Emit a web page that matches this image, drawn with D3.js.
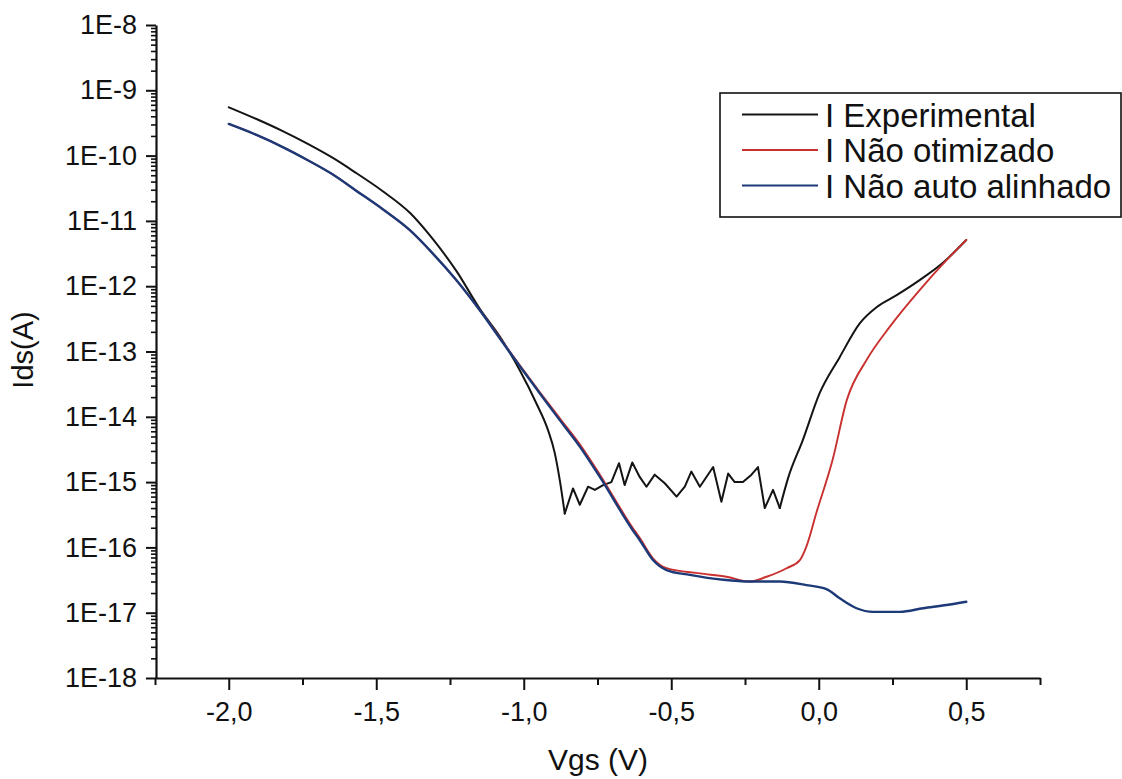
<!DOCTYPE html>
<html>
<head>
<meta charset="utf-8">
<script src="https://cdn.jsdelivr.net/npm/d3@7/dist/d3.min.js"></script>
<style>
  html, body { margin: 0; padding: 0; background: #ffffff; }
  svg { display: block; }
  text { font-family: "Liberation Sans", Arial, sans-serif; fill: #111; }
</style>
</head>
<body>
<svg id="chart" width="1122" height="779"></svg>
<script>
// Ids x Vgs curves (A, V)
const seriesNames = ["I Experimental", "I Não otimizado", "I Não auto alinhado"];
const seriesColors = ["#141414", "#c8312f", "#1d3a78"];

const vgsExperimental = [-2.000, -1.906, -1.817, -1.732, -1.647, -1.567, -1.478, -1.386, -1.308, -1.228,
  -1.149, -1.081, -1.014, -0.957, -0.918, -0.895, -0.878, -0.861, -0.833, -0.810,
  -0.782, -0.759, -0.731, -0.703, -0.677, -0.658, -0.632, -0.607, -0.584, -0.556,
  -0.522, -0.482, -0.454, -0.432, -0.403, -0.358, -0.330, -0.307, -0.285, -0.257,
  -0.228, -0.206, -0.183, -0.155, -0.132, -0.104, -0.054, 0.003, 0.071, 0.139,
  0.197, 0.264, 0.342, 0.420, 0.500];
const idsExperimental = [5.5e-10, 3.63e-10, 2.37e-10, 1.51e-10, 9.2e-11, 5.37e-11, 2.85e-11, 1.33e-11, 5.25e-12, 1.7e-12,
  4.5e-13, 1.69e-13, 5.2e-14, 1.6e-14, 6.3e-15, 2.8e-15, 1.08e-15, 3.3e-16, 8.0e-16, 4.5e-16,
  8.5e-16, 7.6e-16, 9.0e-16, 1.0e-15, 1.95e-15, 9.0e-16, 2.0e-15, 1.2e-15, 8.5e-16, 1.3e-15,
  9.6e-16, 6.0e-16, 8.5e-16, 1.45e-15, 8.5e-16, 1.7e-15, 5.0e-16, 1.35e-15, 1.0e-15, 1.0e-15,
  1.3e-15, 1.7e-15, 4.0e-16, 7.6e-16, 4.0e-16, 1.15e-15, 4.4e-15, 2.3e-14, 8.2e-14, 2.7e-13,
  4.8e-13, 7.3e-13, 1.24e-12, 2.26e-12, 5.1e-12];

const vgsNaoOtimizado = [-2.000, -1.906, -1.817, -1.732, -1.647, -1.567, -1.478, -1.386, -1.308, -1.228,
  -1.149, -1.081, -1.014, -0.946, -0.878, -0.810, -0.742, -0.631, -0.607, -0.562,
  -0.516, -0.403, -0.313, -0.234, -0.177, -0.109, -0.064, -0.042, -0.008, 0.047,
  0.095, 0.162, 0.241, 0.342, 0.433, 0.500];
const idsNaoOtimizado = [3.05e-10, 2.07e-10, 1.35e-10, 8.5e-11, 5.13e-11, 2.88e-11, 1.51e-11, 7.2e-12, 3.16e-12, 1.23e-12,
  4.3e-13, 1.62e-13, 6.2e-14, 2.4e-14, 9.5e-15, 3.8e-15, 1.3e-15, 2.0e-16, 1.4e-16, 6.8e-17,
  4.8e-17, 4.0e-17, 3.55e-17, 3.0e-17, 3.55e-17, 4.8e-17, 6.4e-17, 1.03e-16, 3.4e-16, 2.2e-15,
  1.8e-14, 7.4e-14, 2.4e-13, 8.7e-13, 2.5e-12, 5.1e-12];

const vgsNaoAutoAlinhado = [-2.000, -1.906, -1.817, -1.732, -1.647, -1.567, -1.478, -1.386, -1.308, -1.228,
  -1.149, -1.081, -1.014, -0.946, -0.878, -0.810, -0.742, -0.631, -0.607, -0.562,
  -0.516, -0.437, -0.324, -0.234, -0.132, -0.042, 0.026, 0.071, 0.128, 0.184,
  0.275, 0.354, 0.433, 0.500];
const idsNaoAutoAlinhado = [3.05e-10, 2.07e-10, 1.35e-10, 8.5e-11, 5.13e-11, 2.88e-11, 1.51e-11, 7.2e-12, 3.16e-12, 1.23e-12,
  4.27e-13, 1.58e-13, 6.0e-14, 2.3e-14, 8.9e-15, 3.5e-15, 1.2e-15, 1.85e-16, 1.3e-16, 6.4e-17,
  4.5e-17, 3.8e-17, 3.2e-17, 3.0e-17, 3.0e-17, 2.65e-17, 2.3e-17, 1.66e-17, 1.17e-17, 1.03e-17,
  1.03e-17, 1.17e-17, 1.31e-17, 1.47e-17];

// Vgs interval where the measured current sits on the noise floor
const noiseFloorVgs = [-0.861, -0.132];

// Axis ticks
const xTickValues = [-2.0, -1.5, -1.0, -0.5, 0.0, 0.5];
const xTickLabels = ["-2,0", "-1,5", "-1,0", "-0,5", "0,0", "0,5"];
const xMinorTickValues = [-2.25, -1.75, -1.25, -0.75, -0.25, 0.25, 0.75];
const yTickValues = [1e-8, 1e-9, 1e-10, 1e-11, 1e-12, 1e-13, 1e-14, 1e-15, 1e-16, 1e-17, 1e-18];
const yTickLabels = ["1E-8", "1E-9", "1E-10", "1E-11", "1E-12", "1E-13", "1E-14", "1E-15", "1E-16", "1E-17", "1E-18"];
const xTitle = "Vgs (V)";
const yTitle = "Ids(A)";

const svg = d3.select("#chart");

const x = d3.scaleLinear().domain([-2.25, 0.75]).range([155, 1040]);
const y = d3.scaleLog().domain([1e-18, 1e-8]).range([678, 25]);

// minor log ticks: 2..9 within each decade
const yMinorTickValues = [];
for (let e = -18; e < -8; e++) {
  for (let m = 2; m <= 9; m++) yMinorTickValues.push(m * Math.pow(10, e));
}

const axisX0 = 156;
const axisY0 = 678;

// curves
const smoothLine = d3.line().x(d => x(d[0])).y(d => y(d[1])).curve(d3.curveMonotoneX);
const sharpLine = d3.line().x(d => x(d[0])).y(d => y(d[1])).curve(d3.curveLinear);

function drawPath(g, pts, gen, color, w) {
  g.append("path")
    .datum(pts)
    .attr("d", gen)
    .attr("fill", "none")
    .attr("stroke", color)
    .attr("stroke-width", w)
    .attr("stroke-linejoin", "round")
    .attr("stroke-linecap", "round");
}

const plot = svg.append("g");

// experimental: smooth branches, straight segments across the noise floor
const expPts = vgsExperimental.map((v, j) => [v, idsExperimental[j]]);
const [nA, nB] = noiseFloorVgs;
const expGroup = plot.append("g");
drawPath(expGroup, expPts.filter(d => d[0] <= nA), smoothLine, seriesColors[0], 2.0);
drawPath(expGroup, expPts.filter(d => d[0] >= nA && d[0] <= nB), sharpLine, seriesColors[0], 2.0);
drawPath(expGroup, expPts.filter(d => d[0] >= nB), smoothLine, seriesColors[0], 2.0);

drawPath(plot, vgsNaoOtimizado.map((v, j) => [v, idsNaoOtimizado[j]]), smoothLine, seriesColors[1], 1.9);
drawPath(plot, vgsNaoAutoAlinhado.map((v, j) => [v, idsNaoAutoAlinhado[j]]), smoothLine, seriesColors[2], 2.4);

// y axis: minor ticks, then majors with labels
svg.append("g")
  .attr("transform", `translate(${axisX0},0)`)
  .call(d3.axisLeft(y).tickValues(yMinorTickValues).tickSize(5).tickSizeOuter(0).tickFormat(""))
  .call(g => g.select(".domain").remove())
  .call(g => g.selectAll("line").attr("stroke", "#111").attr("stroke-width", 1.6));

svg.append("g")
  .attr("transform", `translate(${axisX0},0)`)
  .call(d3.axisLeft(y).tickValues(yTickValues).tickSize(10).tickSizeOuter(0).tickPadding(9)
    .tickFormat((d, k) => yTickLabels[k]))
  .call(g => g.select(".domain").attr("stroke", "#111").attr("stroke-width", 2.2))
  .call(g => g.selectAll("line").attr("stroke", "#111").attr("stroke-width", 2))
  .call(g => g.selectAll("text").attr("font-size", 27).attr("fill", "#111")
    .style("font-family", '"Liberation Sans", Arial, sans-serif'));

// x axis
svg.append("g")
  .attr("transform", `translate(0,${axisY0})`)
  .call(d3.axisBottom(x).tickValues(xMinorTickValues).tickSize(7).tickSizeOuter(0).tickFormat(""))
  .call(g => g.select(".domain").remove())
  .call(g => g.selectAll("line").attr("stroke", "#111").attr("stroke-width", 2));

svg.append("g")
  .attr("transform", `translate(0,${axisY0})`)
  .call(d3.axisBottom(x).tickValues(xTickValues).tickSize(12).tickSizeOuter(0).tickPadding(12)
    .tickFormat((d, k) => xTickLabels[k]))
  .call(g => g.select(".domain").attr("stroke", "#111").attr("stroke-width", 2.2))
  .call(g => g.selectAll("line").attr("stroke", "#111").attr("stroke-width", 2))
  .call(g => g.selectAll("text").attr("font-size", 27).attr("fill", "#111")
    .style("font-family", '"Liberation Sans", Arial, sans-serif'));

// axis titles
svg.append("text")
  .attr("x", 598).attr("y", 770)
  .attr("text-anchor", "middle")
  .attr("font-size", 30)
  .text(xTitle);

svg.append("text")
  .attr("transform", "translate(33,350) rotate(-90)")
  .attr("text-anchor", "middle")
  .attr("font-size", 29)
  .text(yTitle);

// legend
const legend = svg.append("g");
legend.append("rect")
  .attr("x", 720).attr("y", 93).attr("width", 401).attr("height", 124)
  .attr("fill", "#fff").attr("stroke", "#111").attr("stroke-width", 1.6);
seriesNames.forEach((name, k) => {
  const base = 126.5 + k * 35.5;
  legend.append("line")
    .attr("x1", 742).attr("x2", 818)
    .attr("y1", base - 12).attr("y2", base - 12)
    .attr("stroke", seriesColors[k]).attr("stroke-width", 2);
  legend.append("text")
    .attr("x", 825).attr("y", base)
    .attr("font-size", 33)
    .text(name);
});
</script>
</body>
</html>
